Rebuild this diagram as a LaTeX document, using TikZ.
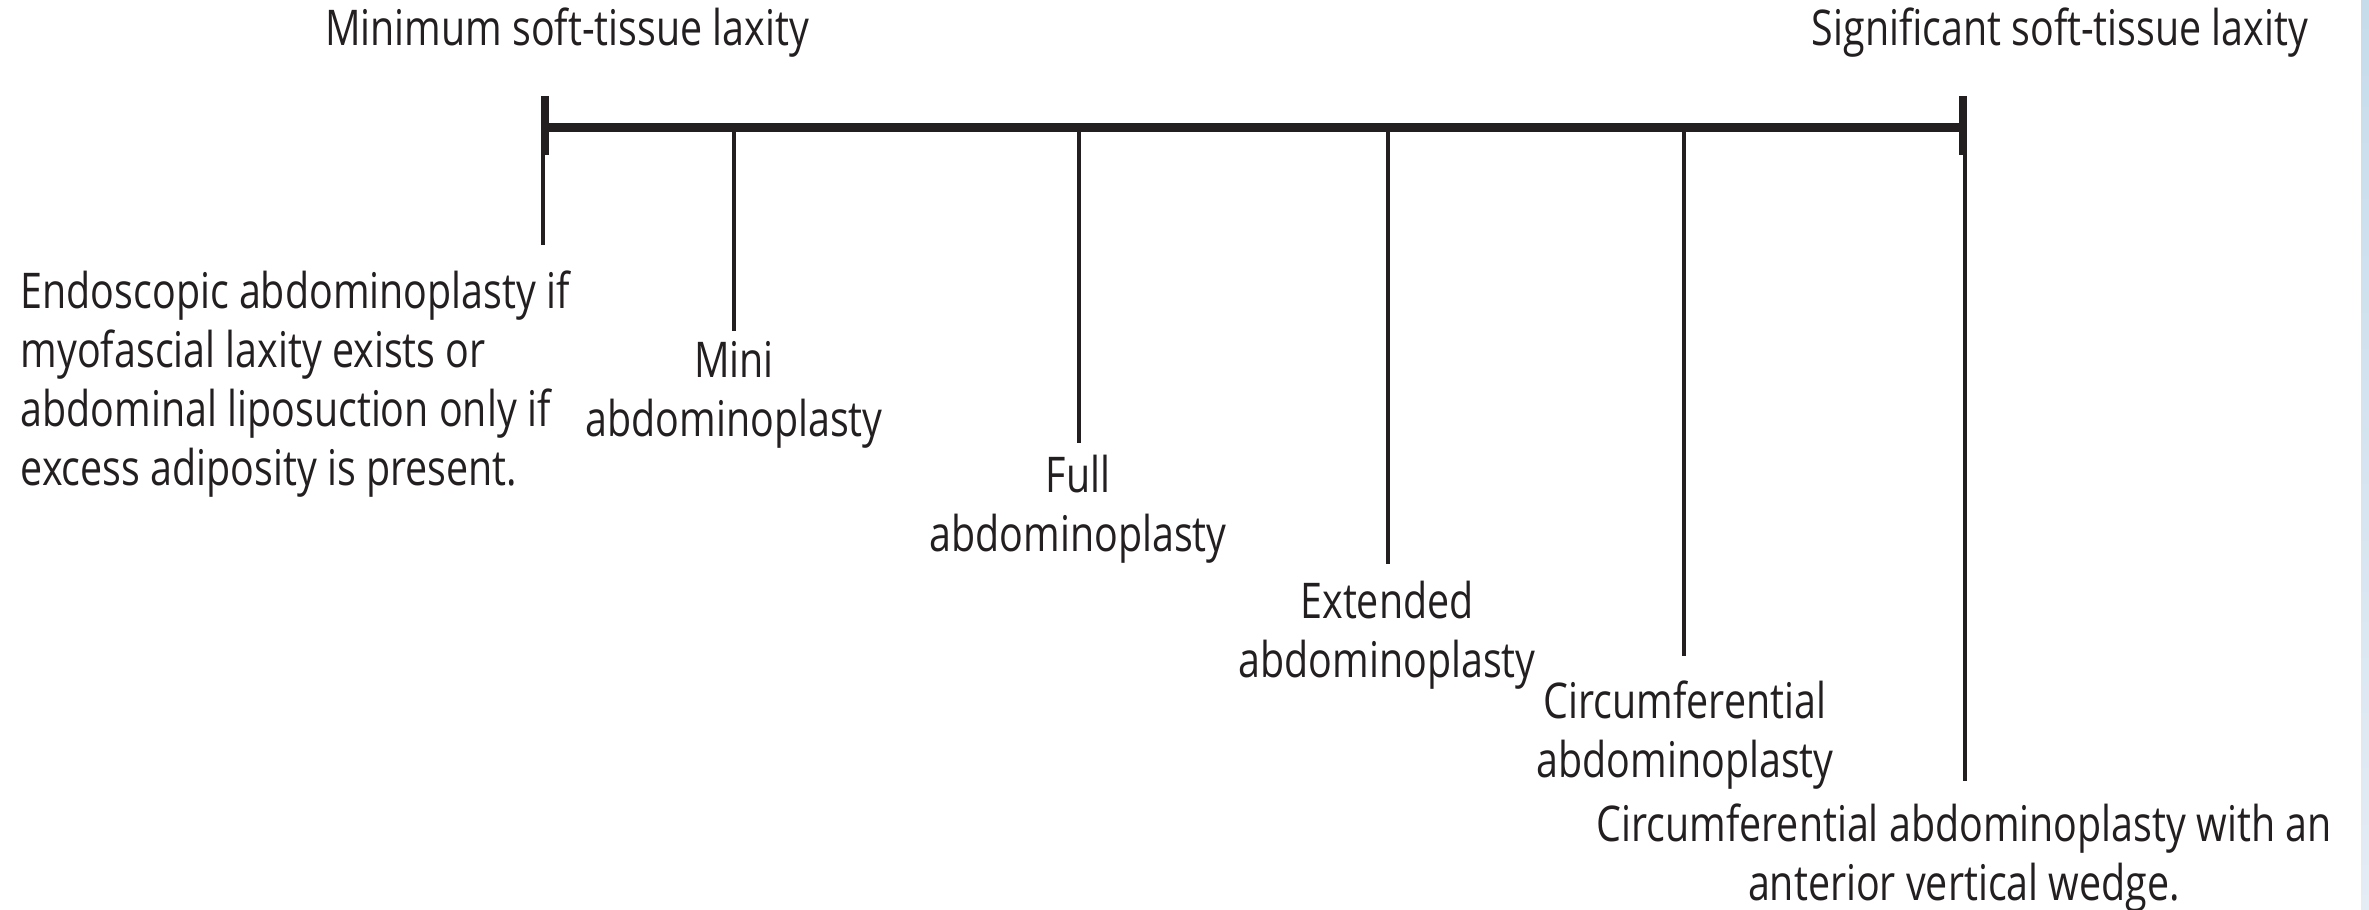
\documentclass[tikz,border=0pt]{standalone}
\usepackage{fontspec}
\setmainfont{Open Sans}[FakeStretch=0.8]
\usepackage{tikz}
\usetikzlibrary{positioning}

\definecolor{ink}{HTML}{231F20}
\definecolor{edgeblue}{HTML}{C6DCEB}
\definecolor{edgepale}{HTML}{E4ECF4}

\begin{document}
\begin{tikzpicture}[x=0.01cm,
            y=-0.01cm,
            bar/.style={draw=ink,line width=2.56pt},
            endtick/.style={draw=ink,line width=2.28pt},
            drop/.style={draw=ink,line width=1.14pt},
            lbl/.style={text=ink,
                        font=\fontsize{14pt}{16.8pt}\selectfont,
                        inner sep=0pt,
                        align=center,
                        anchor=north}]

        \useasboundingbox (0,0) rectangle (2369,910);
        \shade[top color=edgeblue,bottom color=edgepale]
            (2361,0) rectangle (2369,910);

        % scale of laxity
        \coordinate (lo)      at (545,127.5);
        \coordinate (lo up)   at (545,96);
        \coordinate (lo down) at (545,155);
        \coordinate (hi)      at (1963,127.5);
        \coordinate (hi up)   at (1963,96);
        \coordinate (hi down) at (1963,155);
        \coordinate (endo top)  at (543,127.5);
        \coordinate (mini top)  at (734,127.5);
        \coordinate (full top)  at (1079,127.5);
        \coordinate (ext top)   at (1388,127.5);
        \coordinate (circ top)  at (1684,127.5);
        \coordinate (wedge top) at (1965,127.5);

        \node[lbl,anchor=base] (min) at (567,46)  {Minimum soft-tissue laxity};
        \node[lbl,anchor=base] (sig) at (2060,46) {Significant soft-tissue laxity};

        \node[lbl,anchor=north west,align=left] (endo) at (20,270)
            {Endoscopic abdominoplasty if\\myofascial laxity exists or\\abdominal liposuction only if\\excess adiposity is present.};
        \node[lbl] (mini)  at (734,341)  {Mini\\abdominoplasty};
        \node[lbl] (full)  at (1078,454) {Full\\abdominoplasty};
        \node[lbl] (ext)   at (1387,580) {Extended\\abdominoplasty};
        \node[lbl] (circ)  at (1685,680) {Circumferential\\abdominoplasty};
        \node[lbl] (wedge) at (1964,803) {Circumferential abdominoplasty with an\\anterior vertical wedge.};

        \path[bar] (lo) edge (hi);
        \path[endtick] (lo up) edge (lo down)
                       (hi up) edge (hi down);

        \path[drop] (endo top)  edge [shorten >=0.25cm] (endo top |- endo.north)
                    (mini top)  edge [shorten >=0.10cm] (mini top |- mini.north)
                    (full top)  edge [shorten >=0.11cm] (full top |- full.north)
                    (ext top)   edge [shorten >=0.16cm] (ext top |- ext.north)
                    (circ top)  edge [shorten >=0.24cm] (circ top |- circ.north)
                    (wedge top) edge [shorten >=0.22cm] (wedge top |- wedge.north);

    \end{tikzpicture}
\end{document}
